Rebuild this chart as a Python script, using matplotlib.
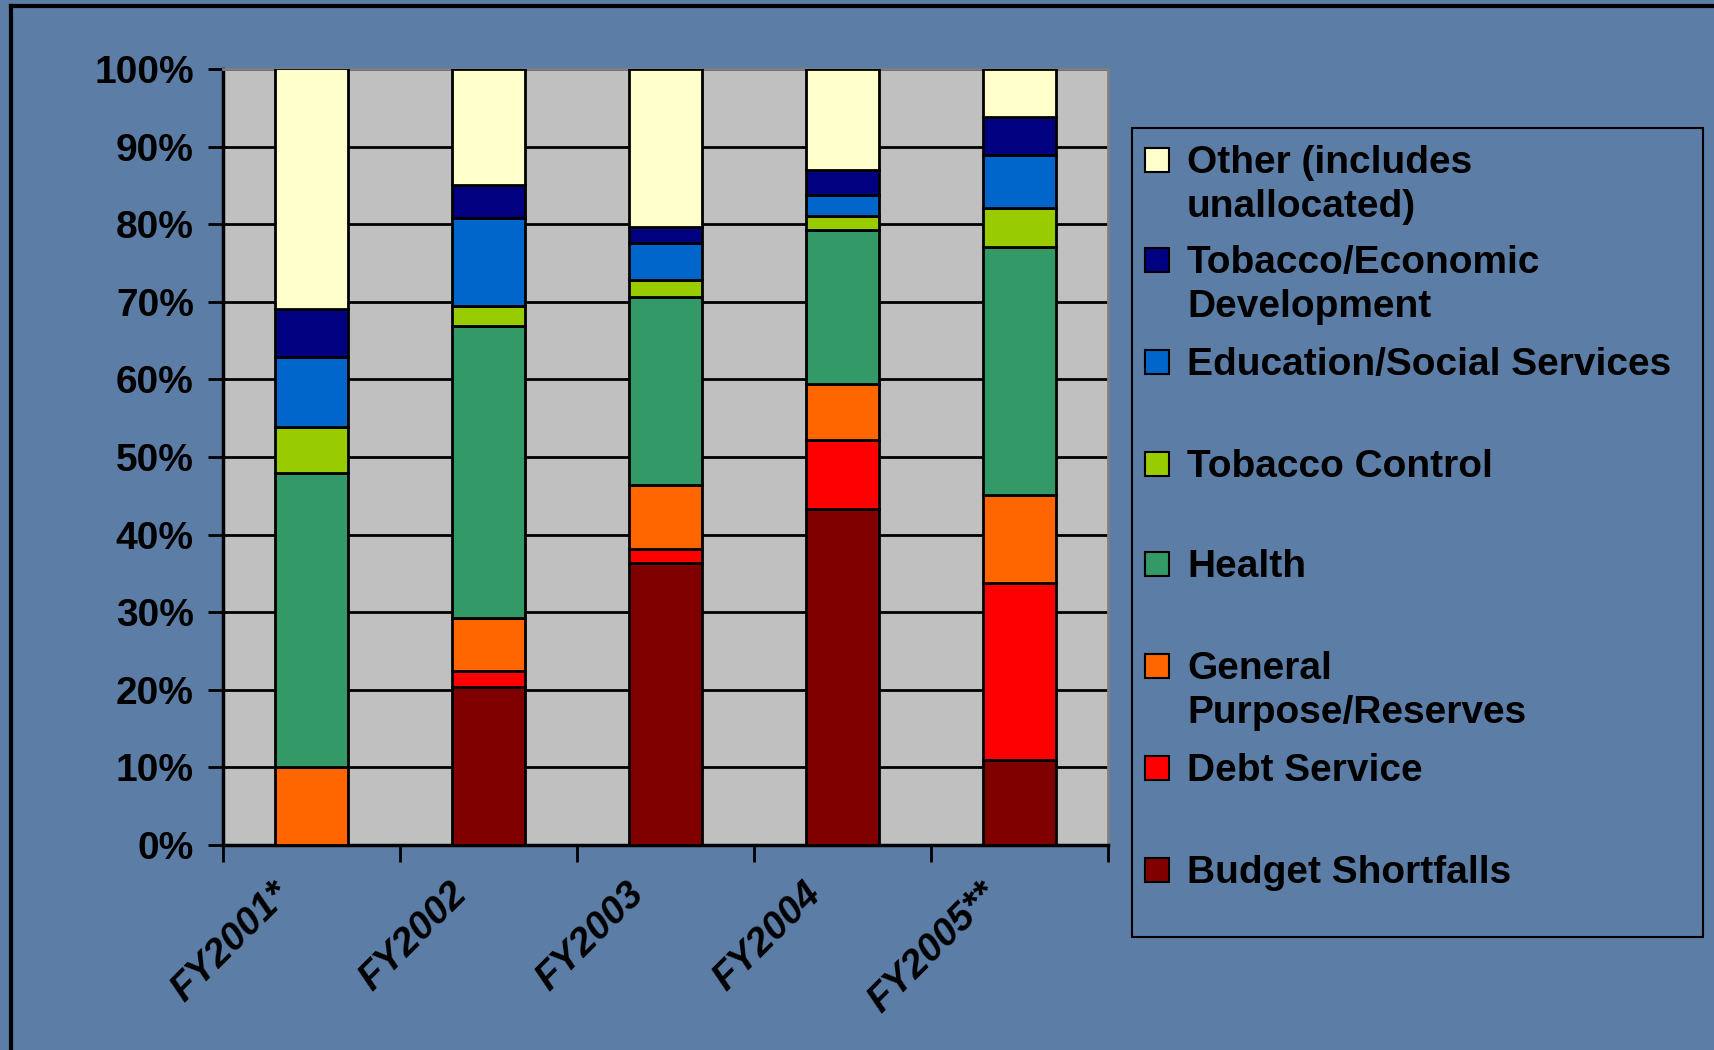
import matplotlib
matplotlib.use("Agg")
import matplotlib.pyplot as plt
from matplotlib.patches import Rectangle
from matplotlib.lines import Line2D
import matplotlib.transforms as mtransforms
import numpy as np

categories = ["FY2001*", "FY2002", "FY2003", "FY2004", "FY2005**"]
series_names = ["Budget Shortfalls", "Debt Service", "General\nPurpose/Reserves", "Health",
                "Tobacco Control", "Education/Social Services",
                "Tobacco/Economic\nDevelopment", "Other (includes\nunallocated)"]
budget = [0.0, 20.3, 36.4, 43.3, 11.0]
debt = [0.0, 2.1, 1.8, 8.9, 22.7]
general = [10.0, 6.9, 8.2, 7.2, 11.4]
health = [37.9, 37.6, 24.2, 19.8, 31.9]
tob_control = [6.0, 2.6, 2.2, 1.9, 5.1]
education = [9.0, 11.3, 4.8, 2.7, 6.8]
tob_econ = [6.2, 4.2, 2.0, 3.2, 4.9]
other = [31.0, 15.0, 20.4, 13.0, 6.2]
series = [budget, debt, general, health, tob_control, education, tob_econ, other]
colors = ["#800000", "#FF0000", "#FF6600", "#339966", "#99CC00", "#0066CC", "#000080", "#FFFFCC"]
ytick_vals = [0, 10, 20, 30, 40, 50, 60, 70, 80, 90, 100]

W, H = 1715, 1050
fig = plt.figure(figsize=(W / 100, H / 100), dpi=100)
bg = "#5B7DA6"
fig.patch.set_facecolor(bg)

# slide border lines
fig.add_artist(Line2D([11 / W, 11 / W], [0, 1 - 6 / H], color="black", lw=3))
fig.add_artist(Line2D([11 / W, 1], [1 - 6 / H, 1 - 6 / H], color="black", lw=3))

ax = fig.add_axes([223 / W, 1 - 845 / H, (1108 - 223) / W, (845 - 69) / H])
ax.set_facecolor("#C0C0C0")
x = np.arange(len(categories))
bottom = np.zeros(len(categories))
for vals, c in zip(series, colors):
    vals = np.array(vals)
    ax.bar(x, vals, bottom=bottom, width=0.41, color=c, edgecolor="black", linewidth=2, zorder=3)
    bottom += vals

ax.set_xlim(-0.5, len(categories) - 0.5)
ax.set_ylim(0, 100)
ax.set_yticks(ytick_vals)
ax.set_yticklabels([f"{v}%" for v in ytick_vals], fontsize=28, fontweight="bold",
                   family="Liberation Sans")
ax.yaxis.grid(True, color="black", lw=2, zorder=1)
ax.set_axisbelow(True)
ax.tick_params(axis="y", direction="out", length=11, width=2, color="black", pad=10)

ax.set_xticks(x)
ax.set_xticks(np.arange(-0.5, len(categories), 1.0), minor=True)
ax.tick_params(axis="x", which="major", length=0, pad=14)
ax.tick_params(axis="x", which="minor", direction="out", length=12, width=2, color="black")
ax.set_xticklabels(categories, rotation=45, ha="right", rotation_mode="anchor",
                   fontsize=28, fontweight="bold", fontstyle="italic", family="Liberation Sans")
offset = mtransforms.ScaledTranslation(-0.40, -0.12, fig.dpi_scale_trans)
for lbl in ax.get_xticklabels():
    lbl.set_transform(lbl.get_transform() + offset)

for side in ["left", "bottom"]:
    ax.spines[side].set_color("black")
    ax.spines[side].set_linewidth(2.5)
for side in ["top", "right"]:
    ax.spines[side].set_color("#808080")
    ax.spines[side].set_linewidth(2)

# legend (manual, top to bottom: reverse of stacking order)
fig.add_artist(Rectangle((1132 / W, 1 - 937 / H), (1703 - 1132) / W, (937 - 128) / H,
                         transform=fig.transFigure, facecolor="none", edgecolor="black", lw=1.5))
centers = [160, 260, 362, 464, 564, 666, 768, 870]
for i, (name, c) in enumerate(zip(series_names[::-1], colors[::-1])):
    yc = centers[i]
    fig.add_artist(Rectangle((1145 / W, 1 - (yc + 12) / H), 24 / W, 24 / H,
                             transform=fig.transFigure, facecolor=c, edgecolor="black", lw=1.5))
    fig.text(1187 / W, 1 - (yc - 15) / H, name, fontsize=28, fontweight="bold",
             family="Liberation Sans", va="top", ha="left", linespacing=1.27)

fig.savefig("out.png", dpi=100, facecolor=fig.get_facecolor())
